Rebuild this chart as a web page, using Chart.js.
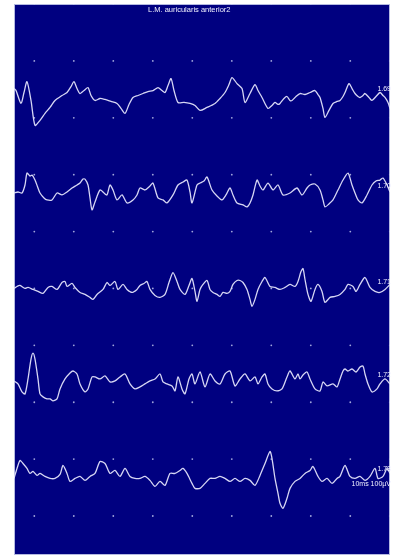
<!DOCTYPE html>
<html>
<head>
<meta charset="utf-8">
<script src="https://cdn.jsdelivr.net/npm/chart.js@4.4.0/dist/chart.umd.min.js"></script>
<style>
  body { margin: 0; background: #fff; }
  canvas { display: block; }
</style>
</head>
<body>
<canvas id="emg" width="399" height="559"></canvas>
<script>
// sweep labels (right side) and vertical offsets of each sweep
const sweepLabels = ["1.69", "1.70", "1.71", "1.72", "1.78"];
const sweepOffsets = [462, 365, 268, 175, 80];

// sweep 1
const t1 = [0,2,7,10,13,17,21,26,31,36,41,48,53,57,60,63,66,70,74,77,81,86,91,97,103,107,111,115,119,124,129,134,139,144,148,151,154,157,160,164,170,176,181,186,193,201,206,211,215,218,223,228,231,236,241,244,248,254,258,261,264,266,270,273,276,278,282,286,291,296,301,304,306,309,311,315,319,323,326,329,331,335,338,341,344,346,349,351,355,358,362,366,369,371,374,376];
const a1 = [7,5,-8,3,14,-5,-30,-25,-18,-12,-5,0,3,9,14,7,2,5,8,0,-5,-3,-4,-6,-8,-13,-18,-9,-2,0,2,4,5,8,5,3,10,17,5,-7,-7,-8,-10,-15,-12,-8,-3,3,11,18,12,7,-7,2,11,5,-2,-13,-10,-7,-9,-8,-3,-1,-5,-5,-1,2,1,3,5,1,-2,-13,-22,-15,-8,-6,-5,-1,3,12,7,2,-1,-2,0,2,-2,-5,-1,3,0,-2,-7,-13];

// sweep 2
const t2 = [0,4,8,11,13,16,18,21,24,26,30,33,38,43,48,53,58,63,66,69,71,74,76,78,81,86,90,93,96,99,103,108,113,119,123,126,131,136,139,144,149,153,159,164,169,173,176,178,183,186,190,193,198,203,208,212,216,219,223,229,233,236,239,243,246,249,254,259,264,269,276,283,288,293,296,301,306,309,311,315,319,324,329,334,338,341,344,348,353,358,362,366,369,373,376];
const a2 = [-1,0,-1,7,19,16,17,12,4,-1,-6,-8,-8,-1,-3,0,4,7,9,13,13,7,-6,-18,-10,2,-1,-3,7,2,-8,-3,-11,-8,-3,4,2,6,9,-6,-8,-11,-3,7,10,12,0,-11,7,9,11,15,2,-4,-8,-3,4,-3,-11,-13,-15,-11,-3,12,6,2,9,2,7,-3,-1,4,-3,4,7,8,2,-8,-15,-12,-8,2,12,19,7,-1,-8,-11,-3,7,11,12,14,7,0];

// sweep 3
const t3 = [0,3,6,11,14,19,24,29,34,38,43,48,51,53,58,61,66,71,76,79,83,89,93,96,101,104,109,113,118,123,126,130,133,136,141,146,151,155,159,163,166,171,175,178,181,183,186,189,193,196,199,203,206,209,213,216,219,223,226,229,233,236,238,241,244,248,251,256,261,266,271,276,281,284,287,289,291,294,297,301,304,308,311,316,321,326,331,334,339,342,346,351,356,361,366,371,376];
const a3 = [0,2,3,0,1,-1,-3,-5,1,2,-1,6,7,2,5,1,-4,-6,-9,-11,-6,-1,6,3,7,-1,4,-1,-4,-1,3,5,7,-1,-7,-9,-6,6,16,7,-1,-6,3,10,-3,-13,-1,4,8,-1,-4,-6,-8,-4,-5,-3,4,8,8,6,-1,-11,-18,-11,-1,7,11,2,1,-1,1,4,2,7,17,20,9,-6,-13,-1,4,-3,-14,-9,-8,-6,-1,4,2,-3,4,11,1,-3,-4,-1,4];

// sweep 4
const t4 = [0,4,8,11,14,17,19,21,24,26,29,33,36,39,43,46,51,56,59,63,66,71,74,78,81,86,91,96,101,106,111,116,121,126,131,136,141,146,149,153,158,161,164,168,171,175,178,181,186,191,196,201,206,211,216,221,226,231,236,241,244,248,251,254,258,263,268,273,276,281,284,286,289,293,296,301,306,309,313,319,323,326,329,331,334,338,342,346,349,351,354,358,363,366,371,376];
const a4 = [0,-3,-11,-13,2,22,28,22,2,-13,-16,-18,-18,-20,-18,-8,2,8,10,7,-3,-11,-8,4,4,2,5,-1,0,4,7,-3,-8,-6,-3,0,2,7,-1,-3,-5,-10,4,-8,-13,2,7,-3,9,-6,7,0,-3,7,10,-5,2,7,0,4,-3,4,7,-3,-8,-10,-8,4,10,2,7,2,6,9,2,-8,-10,-1,-5,-3,-6,2,10,12,10,12,9,14,15,7,-3,-11,-8,-3,2,-3];

// sweep 5
const t5 = [0,3,6,9,13,16,19,23,26,31,36,41,46,49,53,56,61,66,71,76,81,86,91,96,101,106,111,116,121,126,131,136,141,146,151,156,161,166,169,173,178,181,186,191,196,201,206,211,216,221,226,231,236,241,246,251,256,258,261,264,266,269,273,276,281,286,291,296,299,304,308,313,318,323,326,331,336,341,346,351,356,361,364,369,373,376];
const a5 = [-3,7,15,12,7,2,4,0,2,-1,-3,-3,1,10,2,-6,-3,-1,-5,-1,2,14,12,2,5,-1,7,-1,-3,-3,-1,-5,-11,-6,-10,2,2,5,7,2,-8,-13,-13,-8,-3,-3,-1,-3,-6,-3,-6,-3,-5,-10,0,12,24,17,-3,-18,-28,-33,-23,-13,-6,-3,2,5,9,-1,-6,-3,-8,-3,-1,10,-1,-3,-1,-5,-1,7,-3,-1,7,2];

// dotted graticule ticks
const gridTimes = [20.3, 59.8, 99.3, 138.8, 178.3, 217.8, 257.3, 296.8, 336.3, 375.8];
const gridLevels = [554, 496.8, 439.6, 382.4, 325.2, 268, 210.8, 153.6, 96.4, 39.2];

const times = [t1, t2, t3, t4, t5];
const amps = [a1, a2, a3, a4, a5];

const sweepSets = amps.map((a, k) => ({
  type: "line",
  data: a.map((v, i) => ({ x: times[k][i], y: sweepOffsets[k] + v })),
  borderColor: "rgba(225,225,250,0.95)",
  borderWidth: 1.3,
  pointRadius: 0,
  tension: 0.25,
  order: 1
}));

const dots = [];
gridTimes.forEach(x => gridLevels.forEach(y => dots.push({ x, y })));

const panelPlugin = {
  id: "panel",
  beforeDraw(chart) {
    const { ctx, chartArea: a } = chart;
    ctx.save();
    ctx.fillStyle = "#000080";
    ctx.fillRect(a.left, a.top, a.right - a.left, a.bottom - a.top);
    ctx.strokeStyle = "rgba(200,205,235,0.9)";
    ctx.lineWidth = 1;
    ctx.strokeRect(a.left + 0.5, a.top + 0.5, a.right - a.left - 1, a.bottom - a.top - 1);
    ctx.restore();
  },
  afterDraw(chart) {
    const { ctx, chartArea: a, scales } = chart;
    ctx.save();
    ctx.fillStyle = "#f0f0ff";
    ctx.textBaseline = "middle";
    ctx.font = "7.5px 'Liberation Sans', Arial, sans-serif";
    ctx.textAlign = "left";
    ctx.fillText("L.M. auricularis anterior2", a.left + 134, a.top + 6);
    ctx.textAlign = "right";
    ctx.font = "7px 'Liberation Sans', Arial, sans-serif";
    sweepLabels.forEach((lab, k) => {
      ctx.fillText(lab, a.right + 1, scales.y.getPixelForValue(sweepOffsets[k] + 6));
    });
    ctx.fillText("10ms 100\u00b5V", a.right + 1, scales.y.getPixelForValue(sweepOffsets[4] - 9));
    ctx.restore();
  }
};

new Chart(document.getElementById("emg"), {
  type: "line",
  data: {
    datasets: [
      ...sweepSets,
      {
        type: "scatter",
        data: dots,
        pointRadius: 0.9,
        pointBackgroundColor: "rgba(190,195,235,0.85)",
        pointBorderWidth: 0,
        order: 2
      }
    ]
  },
  options: {
    responsive: false,
    animation: false,
    devicePixelRatio: 1,
    layout: { padding: { left: 14, right: 9, top: 3, bottom: 2 } },
    scales: {
      x: { type: "linear", min: 0, max: 376, display: false },
      y: { min: 0, max: 554, display: false }
    },
    plugins: { legend: { display: false }, tooltip: { enabled: false } }
  },
  plugins: [panelPlugin]
});
</script>
</body>
</html>
